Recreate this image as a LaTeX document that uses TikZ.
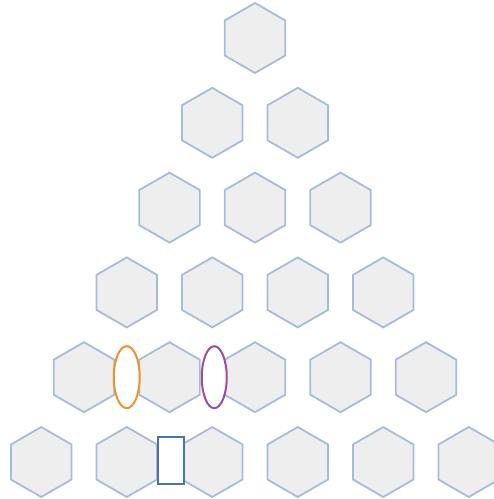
\documentclass[tikz,border=0pt]{standalone}
\usepackage{tikz}
\usetikzlibrary{shapes.geometric,calc}

\definecolor{hexfill}{HTML}{EEEEEE}
\definecolor{hexline}{HTML}{A7BCD8}
\definecolor{ringorange}{HTML}{F0922C}
\definecolor{ringpurple}{HTML}{A04D98}
\definecolor{boxblue}{HTML}{4A72AE}

\begin{document}
\begin{tikzpicture}[x=1pt, y=-1pt,
  hexcell/.style={regular polygon, regular polygon sides=6, shape border rotate=30,
    minimum size=70pt, inner sep=0pt, draw=hexline, fill=hexfill, line width=1.8pt},
  ring/.style={ellipse, minimum width=26pt, minimum height=62pt, inner sep=0pt,
    fill=white, line width=2pt},
  gapbox/.style={rectangle, minimum width=26pt, minimum height=47pt, inner sep=0pt,
    draw=boxblue, fill=white, line width=2pt}]
  \useasboundingbox (0,0) rectangle (494,499);
  % row 1
  \node[hexcell] (h11) at (255,38) {};
  % row 2
  \node[hexcell] (h21) at (212.25,122.8) {};
  \node[hexcell] (h22) at (297.75,122.8) {};
  % row 3
  \node[hexcell] (h31) at (169.5,207.6) {};
  \node[hexcell] (h32) at (255,207.6) {};
  \node[hexcell] (h33) at (340.5,207.6) {};
  % row 4
  \node[hexcell] (h41) at (126.75,292.4) {};
  \node[hexcell] (h42) at (212.25,292.4) {};
  \node[hexcell] (h43) at (297.75,292.4) {};
  \node[hexcell] (h44) at (383.25,292.4) {};
  % row 5
  \node[hexcell] (h51) at (84,377.2) {};
  \node[hexcell] (h52) at (169.5,377.2) {};
  \node[hexcell] (h53) at (255,377.2) {};
  \node[hexcell] (h54) at (340.5,377.2) {};
  \node[hexcell] (h55) at (426,377.2) {};
  % row 6
  \node[hexcell] (h61) at (41.25,462) {};
  \node[hexcell] (h62) at (126.75,462) {};
  \node[hexcell] (h63) at (212.25,462) {};
  \node[hexcell] (h64) at (297.75,462) {};
  \node[hexcell] (h65) at (383.25,462) {};
  \node[hexcell] (h66) at (468.75,462) {};
  % markers between cells
  \node[ring, draw=ringorange] (ring1) at ($(h51)!0.5!(h52)$) {};
  \node[ring, draw=ringpurple, minimum width=25pt] (ring2) at ($(h52)!0.5!(h53)+(2,0)$) {};
  \node[gapbox] (gap1) at ($(h62)!0.5!(h63)+(1,-2)$) {};
\end{tikzpicture}
\end{document}
